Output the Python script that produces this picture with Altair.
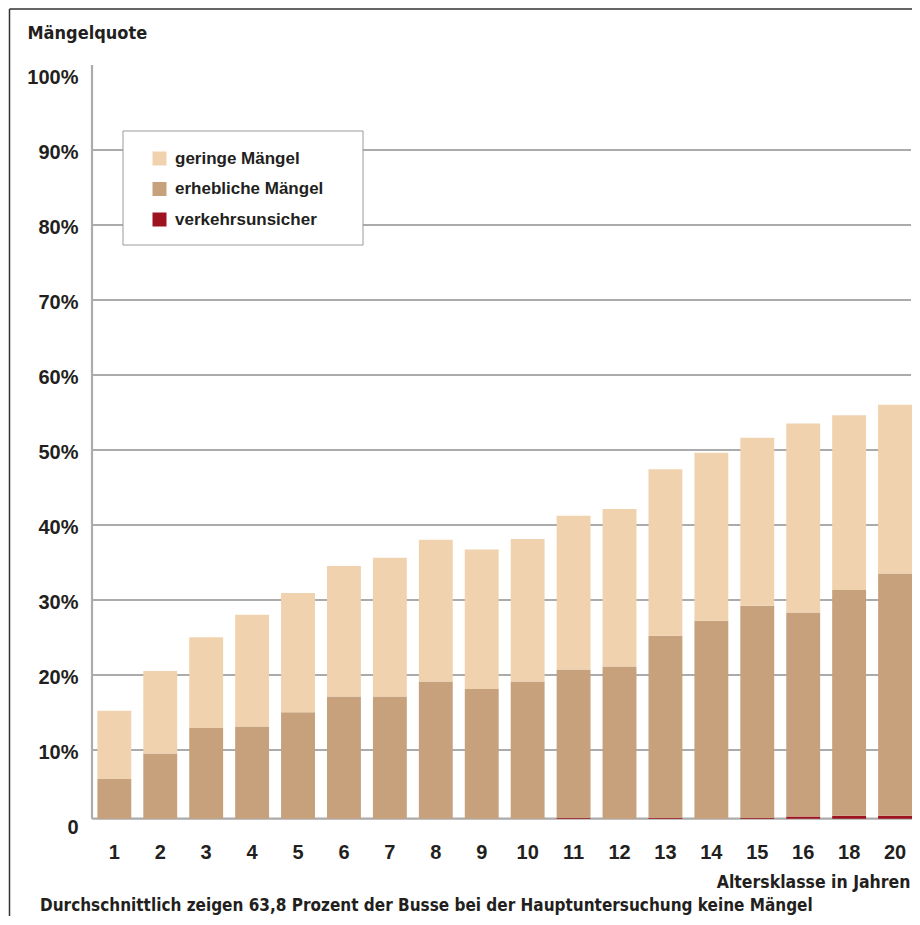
import altair as alt
import pandas as pd

# ---- data ----
ages = ['1', '2', '3', '4', '5', '6', '7', '8', '9', '10',
        '11', '12', '13', '14', '15', '16', '18', '20']
verkehrsunsicher = [0, 0, 0, 0, 0, 0, 0, 0, 0, 0,
                    0.1, 0, 0.1, 0, 0.1, 0.3, 0.4, 0.4]
erhebliche = [5.3, 8.7, 12.1, 12.3, 14.2, 16.3, 16.3, 18.3, 17.3, 18.3,
              19.8, 20.3, 24.3, 26.4, 28.3, 27.2, 30.1, 32.3]
geringe = [9.1, 11.0, 12.1, 14.9, 15.9, 17.4, 18.5, 18.9, 18.6, 19.0,
           20.5, 21.0, 22.2, 22.4, 22.4, 25.2, 23.3, 22.5]
categories = ['geringe Mängel', 'erhebliche Mängel', 'verkehrsunsicher']
colors = ['#F0D2AE', '#C7A07C', '#9E1320']
y_ticks = [0, 10, 20, 30, 40, 50, 60, 70, 80, 90, 100]
grid_values = [10, 20, 30, 40, 50, 60, 70, 80, 90]
caption = "Durchschnittlich zeigen 63,8 Prozent der Busse bei der Hauptuntersuchung keine Mängel"

BASE = 0.85  # drawn baseline sits slightly above the "0" label
AXIS_TOP = 101.33

W, H = 820, 750
PAD = {'left': 84, 'top': 67, 'right': 0, 'bottom': 91}
TXT = '#231f20'
GRID = '#ababab'
COND = "DejaVu Sans Condensed, sans-serif"
SANS = "Liberation Sans, Arial, Helvetica, sans-serif"
LEG_X, LEG_Y, LEG_W, LEG_H = 31, 56, 240, 114

rows = []
for i, a in enumerate(ages):
    lo = BASE
    for cat, vals in [('verkehrsunsicher', verkehrsunsicher),
                      ('erhebliche Mängel', erhebliche),
                      ('geringe Mängel', geringe)]:
        hi = lo + vals[i]
        rows.append(dict(alter=a, kategorie=cat, lo=lo, hi=hi, wert=vals[i]))
        lo = hi
df = pd.DataFrame(rows)

x_scale = alt.Scale(domain=ages, paddingInner=0.262, paddingOuter=0.0586, align=1)
y_scale = alt.Scale(domain=[0, 100], nice=False, zero=False)

y_axis = alt.Axis(values=y_ticks, grid=False, domain=False, ticks=False,
                  labelExpr="datum.value == 0 ? '0' : datum.value + '%'",
                  labelPadding=14, labelOffset=2,
                  labelFont=SANS, labelFontSize=20, labelFontWeight='bold',
                  labelColor=TXT,
                  title='Mängelquote', titleAngle=0, titleAlign='left',
                  titleBaseline='middle', titleX=-65, titleY=-42,
                  titleFont=COND, titleFontSize=18, titleFontWeight='bold',
                  titleColor=TXT)

grid = alt.Chart(pd.DataFrame({'v': grid_values})).mark_rule(
    color=GRID, strokeWidth=2.2
).encode(
    y=alt.Y('v:Q', scale=y_scale, axis=y_axis),
    x=alt.value(0), x2=alt.value(W - 1)
)

baseline = alt.Chart(pd.DataFrame({'v': [BASE]})).mark_rule(
    color=GRID, strokeWidth=2.2
).encode(
    y=alt.Y('v:Q', scale=y_scale, axis=y_axis),
    x=alt.value(0), x2=alt.value(W)
)

axis_line = alt.Chart(pd.DataFrame({'v': [AXIS_TOP], 'bot': [BASE]})).mark_rule(
    color=GRID, strokeWidth=2.2
).encode(
    x=alt.value(0),
    y=alt.Y('v:Q', scale=y_scale, axis=y_axis),
    y2='bot:Q'
)

legend_box = alt.Chart(pd.DataFrame({'k': [0]})).mark_rect(
    fill='white', stroke='#9a9a9a', strokeWidth=1
).encode(x=alt.value(LEG_X), x2=alt.value(LEG_X + LEG_W),
         y=alt.value(LEG_Y), y2=alt.value(LEG_Y + LEG_H))

bars = alt.Chart(df).mark_bar(strokeWidth=0).encode(
    x=alt.X('alter:N', scale=x_scale, sort=ages,
            axis=alt.Axis(title='Altersklasse in Jahren', labelAngle=0,
                          domain=False, ticks=False, labelPadding=17,
                          labelFont=SANS, labelFontSize=20, labelFontWeight='bold',
                          labelColor=TXT,
                          titleFont=COND, titleFontSize=17.5, titleFontWeight='bold',
                          titleColor=TXT, titleX=W - 2, titleY=57,
                          titleAlign='right', titleBaseline='middle')),
    y=alt.Y('hi:Q', scale=y_scale, axis=y_axis),
    y2='lo:Q',
    color=alt.Color('kategorie:N',
                    scale=alt.Scale(domain=categories, range=colors),
                    legend=alt.Legend(title=None, orient='none',
                                      legendX=LEG_X, legendY=LEG_Y,
                                      padding=19, symbolType='square', symbolSize=196,
                                      symbolStrokeWidth=0, symbolOffset=9,
                                      labelOffset=7, rowPadding=12.5,
                                      labelFont=SANS, labelFontSize=17,
                                      labelFontWeight='bold', labelColor=TXT))
)

cap = alt.Chart(pd.DataFrame({'t': [caption]})).mark_text(
    align='left', baseline='alphabetic', font=COND, fontSize=17,
    fontWeight='bold', color=TXT
).encode(text='t:N', x=alt.value(-52), y=alt.value(836))

frame_left = alt.Chart(pd.DataFrame({'k': [0]})).mark_rule(
    color='#333333', strokeWidth=1.5
).encode(x=alt.value(-82.5), y=alt.value(-66), y2=alt.value(H + PAD['bottom']))

frame_top = alt.Chart(pd.DataFrame({'k': [0]})).mark_rule(
    color='#333333', strokeWidth=1.5
).encode(y=alt.value(-66), x=alt.value(-82.5), x2=alt.value(W))

chart = alt.layer(grid, baseline, axis_line, legend_box, bars, cap,
                  frame_left, frame_top).properties(
    width=W, height=H,
    autosize=alt.AutoSizeParams(type='none'),
    padding=PAD
).configure_view(stroke=None)

chart.save("out.html", embed_options={"renderer": "svg", "actions": False})
